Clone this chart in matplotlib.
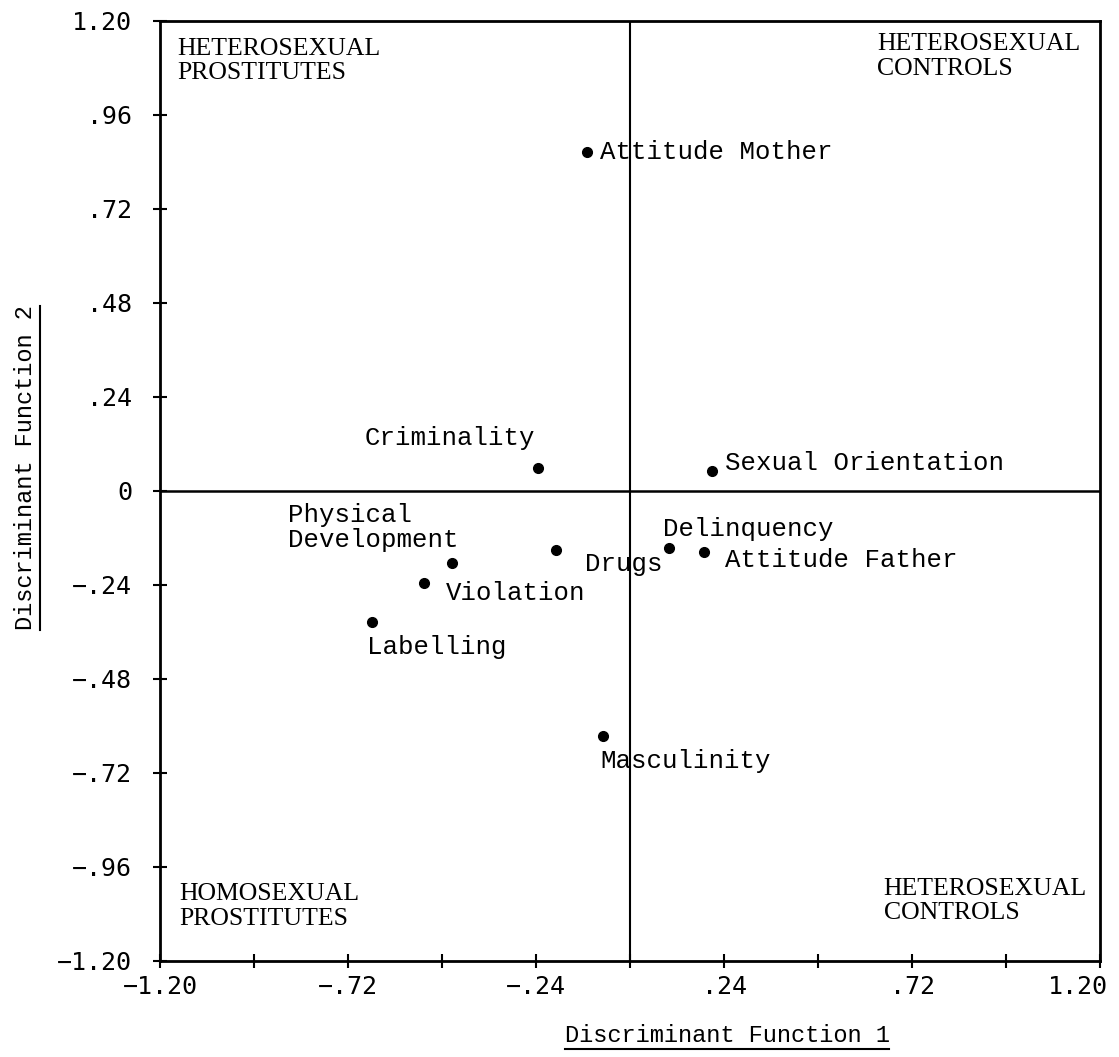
import matplotlib
matplotlib.use('Agg')
import matplotlib.pyplot as plt
from matplotlib.lines import Line2D
from matplotlib.transforms import ScaledTranslation

# Discriminant function loadings
names = ['Attitude Mother', 'Criminality', 'Sexual Orientation',
         'Physical\nDevelopment', 'Violation', 'Labelling', 'Drugs',
         'Delinquency', 'Attitude Father', 'Masculinity']
func1 = [-0.11, -0.235, 0.21, -0.455, -0.525, -0.66, -0.19, 0.10, 0.19, -0.07]
func2 = [0.865, 0.06, 0.05, -0.185, -0.235, -0.335, -0.15, -0.145, -0.155, -0.625]

tick_values = [-1.20, -0.96, -0.72, -0.48, -0.24, 0.0, 0.24, 0.48, 0.72, 0.96, 1.20]
xtick_labels = ['\u22121.20', '', '\u2212.72', '', '\u2212.24', '', '.24', '', '.72', '', '1.20']
ytick_labels = ['\u22121.20', '\u2212.96', '\u2212.72', '\u2212.48', '\u2212.24', '0',
                '.24', '.48', '.72', '.96', '1.20']

group_names = ['HETEROSEXUAL\nPROSTITUTES', 'HETEROSEXUAL\nCONTROLS',
               'HOMOSEXUAL\nPROSTITUTES', 'HETEROSEXUAL\nCONTROLS']

# label placement (pixel offsets from each point)
label_offsets = {
    'Attitude Mother': (13, 0), 'Criminality': (-3, 30),
    'Sexual Orientation': (13, 8), 'Physical\nDevelopment': (-164, 36),
    'Violation': (22, -10), 'Labelling': (-5, -25), 'Drugs': (29, -14),
    'Delinquency': (-6, 19), 'Attitude Father': (21, -8), 'Masculinity': (-2, -25),
}

mono = 'Liberation Mono'
tick_font = 'DejaVu Sans Mono'

fig = plt.figure(figsize=(11.19, 10.57), dpi=100)
ax = fig.add_axes([160 / 1119, 1 - 961 / 1057, 940 / 1119, 940 / 1057])
ax.set_xlim(-1.2, 1.2)
ax.set_ylim(-1.2, 1.2)

for s in ax.spines.values():
    s.set_linewidth(2)

ax.axhline(0, color='black', lw=1.8)
ax.axvline(0, color='black', lw=1.5)

ax.plot(func1, func2, 'o', color='black', markersize=7, zorder=3)
for n, x, y in zip(names, func1, func2):
    dx, dy = label_offsets[n]
    ha = 'right' if n == 'Criminality' else 'left'
    ax.annotate(n, (x, y), xytext=(dx, dy), textcoords='offset pixels',
                ha=ha, va='center', family=mono, fontsize=18.5,
                linespacing=1.05)

ax.set_xticks(tick_values)
ax.set_xticklabels(xtick_labels)
ax.set_yticks(tick_values)
ax.set_yticklabels(ytick_labels)
ax.tick_params(axis='both', direction='inout', length=10, width=1.5,
               labelsize=18)
ax.tick_params(axis='y', pad=15)
ax.tick_params(axis='x', pad=5)
for lab in ax.get_xticklabels() + ax.get_yticklabels():
    lab.set_family(tick_font)

# last x label sits inside the figure edge
last = ax.get_xticklabels()[-1]
last.set_ha('right')
last.set_transform(last.get_transform() + ScaledTranslation(0.08, 0, fig.dpi_scale_trans))

# quadrant captions
corner = dict(family='Liberation Serif', fontsize=18.5, linespacing=1.15,
              transform=ax.transAxes, multialignment='left')
ax.text(0.018, 0.982, group_names[0], ha='left', va='top', **corner)
ax.text(0.979, 0.987, group_names[1], ha='right', va='top', **corner)
ax.text(0.021, 0.033, group_names[2], ha='left', va='bottom', **corner)
ax.text(0.986, 0.039, group_names[3], ha='right', va='bottom', **corner)

# underlined axis titles
xl = fig.text(727 / 1119, 1 - 1035 / 1057, 'Discriminant Function 1',
              ha='center', va='center', family=mono, fontsize=17)
yl = fig.text(26 / 1119, 1 - 468 / 1057, 'Discriminant Function 2',
              ha='center', va='center', rotation=90, family=mono, fontsize=17)

fig.canvas.draw()
r = fig.canvas.get_renderer()
W, H = fig.bbox.width, fig.bbox.height
b = xl.get_window_extent(r)
fig.add_artist(Line2D([b.x0 / W, b.x1 / W], [(b.y0 - 2) / H] * 2,
                      color='black', lw=1.5))
b = yl.get_window_extent(r)
fig.add_artist(Line2D([(b.x1 + 2) / W] * 2, [b.y0 / H, b.y1 / H],
                      color='black', lw=1.5))

fig.savefig('out.png', dpi=100)
